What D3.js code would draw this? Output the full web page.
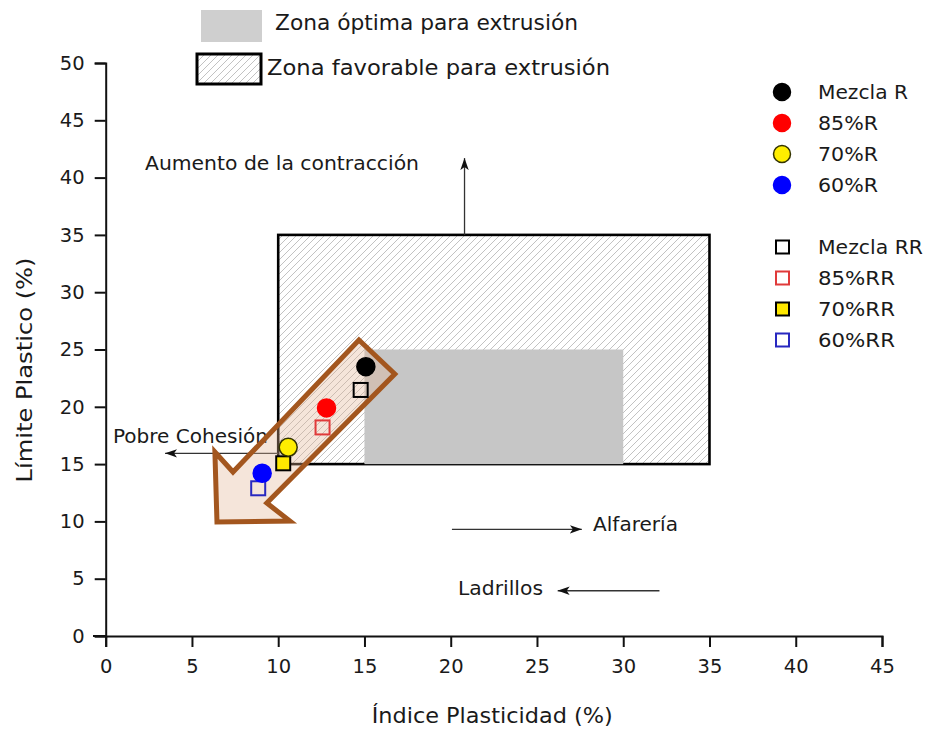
<!DOCTYPE html>
<html>
<head>
<meta charset="utf-8">
<script src="https://cdn.jsdelivr.net/npm/d3@7"></script>
<style>
  html, body { margin: 0; padding: 0; background: #fff; }
  text { font-family: "DejaVu Sans", sans-serif; fill: #1a1a1a; }
</style>
</head>
<body>
<svg id="chart" width="927" height="731"></svg>
<script>
// ---- data ----
const xTicks = [0, 5, 10, 15, 20, 25, 30, 35, 40, 45];
const yTicks = [0, 5, 10, 15, 20, 25, 30, 35, 40, 45, 50];

// plasticity index (x) and plastic limit (y) of each mix
const samplesR  = ["Mezcla R", "85%R", "70%R", "60%R"];
const ipR       = [15.08, 12.8, 10.58, 9.07];
const lpR       = [23.5, 19.9, 16.47, 14.2];

const samplesRR = ["Mezcla RR", "85%RR", "70%RR", "60%RR"];
const ipRR      = [14.78, 12.57, 10.29, 8.84];
const lpRR      = [21.47, 18.2, 15.07, 12.89];

// extrusion zones [ip0, ip1, lp0, lp1]
const favorableZone = [10, 35, 15, 35];
const optimalZone   = [15, 30, 15, 25];
const zoneLabels = ["Zona óptima para extrusión", "Zona favorable para extrusión"];

// trend arrow outline (ip, lp)
const trendArrow = [
  [14.68, 25.83], [16.76, 22.86], [9.34, 11.6], [10.68, 10.03],
  [6.45, 9.95], [6.33, 16.06], [7.38, 14.31]
];

// annotation arrows: from (ip, lp) to (ip, lp)
const noteArrows = [
  { from: [20.8, 35],    to: [20.8, 41.7] },   // Aumento de la contracción
  { from: [10, 15.94],   to: [3.44, 15.94] },  // Pobre Cohesión
  { from: [20.07, 9.31], to: [27.6, 9.31] },   // Alfarería
  { from: [32.1, 3.95],  to: [26.2, 3.95] }    // Ladrillos
];
const noteLabels = ["Aumento de la contracción", "Pobre Cohesión", "Alfarería", "Ladrillos"];

// ---- setup ----
const svg = d3.select("#chart");
const x = d3.scaleLinear().domain([0, 45]).range([105.7, 882]);
const y = d3.scaleLinear().domain([0, 50]).range([636, 63]);

const defs = svg.append("defs");
const hatch = defs.append("pattern")
  .attr("id", "hatch").attr("patternUnits", "userSpaceOnUse")
  .attr("width", 7).attr("height", 7);
hatch.append("rect").attr("width", 7).attr("height", 7).attr("fill", "#fff");
hatch.append("path")
  .attr("d", "M-1,1 l2,-2 M0,7 l7,-7 M6,8 l2,-2")
  .attr("stroke", "#c2c2c2").attr("stroke-width", 1);

defs.append("marker")
  .attr("id", "head").attr("viewBox", "0 0 10 10")
  .attr("refX", 10).attr("refY", 5)
  .attr("markerWidth", 12).attr("markerHeight", 12)
  .attr("markerUnits", "userSpaceOnUse")
  .attr("orient", "auto")
  .append("path").attr("d", "M0,1.5 L10,5 L0,8.5 L2.5,5 Z").attr("fill", "#111");

function fit(sel, w) {
  return sel.attr("textLength", w).attr("lengthAdjust", "spacingAndGlyphs");
}

// ---- zones ----
svg.append("rect")
  .attr("x", x(favorableZone[0])).attr("y", y(favorableZone[3]))
  .attr("width", x(favorableZone[1]) - x(favorableZone[0]))
  .attr("height", y(favorableZone[2]) - y(favorableZone[3]))
  .attr("fill", "url(#hatch)").attr("stroke", "#000").attr("stroke-width", 2.6);

svg.append("rect")
  .attr("x", x(optimalZone[0])).attr("y", y(optimalZone[3]))
  .attr("width", x(optimalZone[1]) - x(optimalZone[0]))
  .attr("height", y(optimalZone[2]) - y(optimalZone[3]))
  .attr("fill", "#c6c6c6");

// ---- axes ----
const xAxis = svg.append("g").attr("transform", `translate(0,${y(0)})`);
xAxis.call(d3.axisBottom(x).tickValues(d3.range(2.5, 45, 5)).tickSize(6).tickFormat(""));
xAxis.call(d3.axisBottom(x).tickValues(xTicks).tickSize(11).tickPadding(12));
const yAxis = svg.append("g").attr("transform", `translate(${x(0)},0)`);
yAxis.call(d3.axisLeft(y).tickValues(d3.range(2.5, 50, 5)).tickSize(6).tickFormat(""));
yAxis.call(d3.axisLeft(y).tickValues(yTicks).tickSize(11).tickPadding(10));
svg.selectAll(".domain").attr("stroke", "#111").attr("stroke-width", 2);
svg.selectAll(".tick line").attr("stroke", "#111").attr("stroke-width", 2);
svg.selectAll(".tick text").style("font-family", "DejaVu Sans").style("font-size", "19.5px").attr("fill", "#1a1a1a");
// x axis line runs slightly past the y axis
svg.append("line").attr("x1", 93).attr("x2", x(0)).attr("y1", y(0)).attr("y2", y(0))
  .attr("stroke", "#111").attr("stroke-width", 2);

// axis titles
fit(svg.append("text").attr("x", 371.7).attr("y", 723).style("font-size", "21px")
  .text("Índice Plasticidad (%)"), 241);
fit(svg.append("text").attr("transform", "translate(32,370) rotate(-90)")
  .attr("text-anchor", "middle").style("font-size", "21px")
  .text("Límite Plastico (%)"), 225);

// ---- annotation arrows ----
svg.selectAll("line.note").data(noteArrows).enter().append("line")
  .attr("class", "note")
  .attr("x1", d => x(d.from[0])).attr("y1", d => y(d.from[1]))
  .attr("x2", d => x(d.to[0])).attr("y2", d => y(d.to[1]))
  .attr("stroke", "#333").attr("stroke-width", 1.3)
  .attr("marker-end", "url(#head)");

const notePos = [[145, 170, 274], [113, 443, 155], [593, 531, 85], [458, 595, 85]];
noteLabels.forEach((t, i) => {
  fit(svg.append("text").attr("x", notePos[i][0]).attr("y", notePos[i][1])
    .style("font-size", "19.5px").text(t), notePos[i][2]);
});

// ---- trend arrow ----
svg.append("path")
  .attr("d", d3.line().x(d => x(d[0])).y(d => y(d[1]))(trendArrow) + "Z")
  .attr("fill", "rgba(225,180,150,0.35)")
  .attr("stroke", "#a3561e").attr("stroke-width", 5)
  .attr("stroke-linejoin", "miter");

// ---- points ----
const colR = ["#000000", "#ff0000", "#ffee00", "#0000ff"];
const strokeR = ["#000000", "#ff0000", "#333300", "#0000ff"];
const colRR = ["#000000", "#e03a3a", "#000000", "#2828c0"];
const fillRR = ["none", "none", "#ffe800", "none"];

svg.selectAll("rect.rr").data(samplesRR).enter().append("rect")
  .attr("class", "rr")
  .attr("x", (d, i) => x(ipRR[i]) - 7).attr("y", (d, i) => y(lpRR[i]) - 7)
  .attr("width", 14).attr("height", 14)
  .attr("fill", (d, i) => fillRR[i]).attr("stroke", (d, i) => colRR[i]).attr("stroke-width", 2);

svg.selectAll("circle.r").data(samplesR).enter().append("circle")
  .attr("class", "r")
  .attr("cx", (d, i) => x(ipR[i])).attr("cy", (d, i) => y(lpR[i])).attr("r", 9)
  .attr("fill", (d, i) => colR[i]).attr("stroke", (d, i) => strokeR[i]).attr("stroke-width", 1.5);

// ---- zone legend ----
svg.append("rect").attr("x", 201).attr("y", 10).attr("width", 61).attr("height", 32).attr("fill", "#cfcfcf");
svg.append("rect").attr("x", 197).attr("y", 54).attr("width", 64).attr("height", 30)
  .attr("fill", "url(#hatch)").attr("stroke", "#000").attr("stroke-width", 3);
fit(svg.append("text").attr("x", 275).attr("y", 30).style("font-size", "21px").text(zoneLabels[0]), 303);
fit(svg.append("text").attr("x", 267).attr("y", 75).style("font-size", "21px").text(zoneLabels[1]), 343);

// ---- sample legend ----
const legR = [92, 123, 154, 185];
const legRR = [247, 278, 309, 340];
const widR = [90, 60, 60, 60];
const widRR = [105, 77, 77, 77];
samplesR.forEach((s, i) => {
  svg.append("circle").attr("cx", 782).attr("cy", legR[i]).attr("r", 8.5)
    .attr("fill", colR[i]).attr("stroke", strokeR[i]).attr("stroke-width", 1.5);
  fit(svg.append("text").attr("x", 818).attr("y", legR[i] + 7).style("font-size", "19.5px").text(s), widR[i]);
});
samplesRR.forEach((s, i) => {
  svg.append("rect").attr("x", 776).attr("y", legRR[i] - 6.5).attr("width", 13).attr("height", 13)
    .attr("fill", fillRR[i] === "none" ? "#fff" : fillRR[i]).attr("stroke", colRR[i]).attr("stroke-width", 2);
  fit(svg.append("text").attr("x", 818).attr("y", legRR[i] + 7).style("font-size", "19.5px").text(s), widRR[i]);
});
</script>
</body>
</html>
